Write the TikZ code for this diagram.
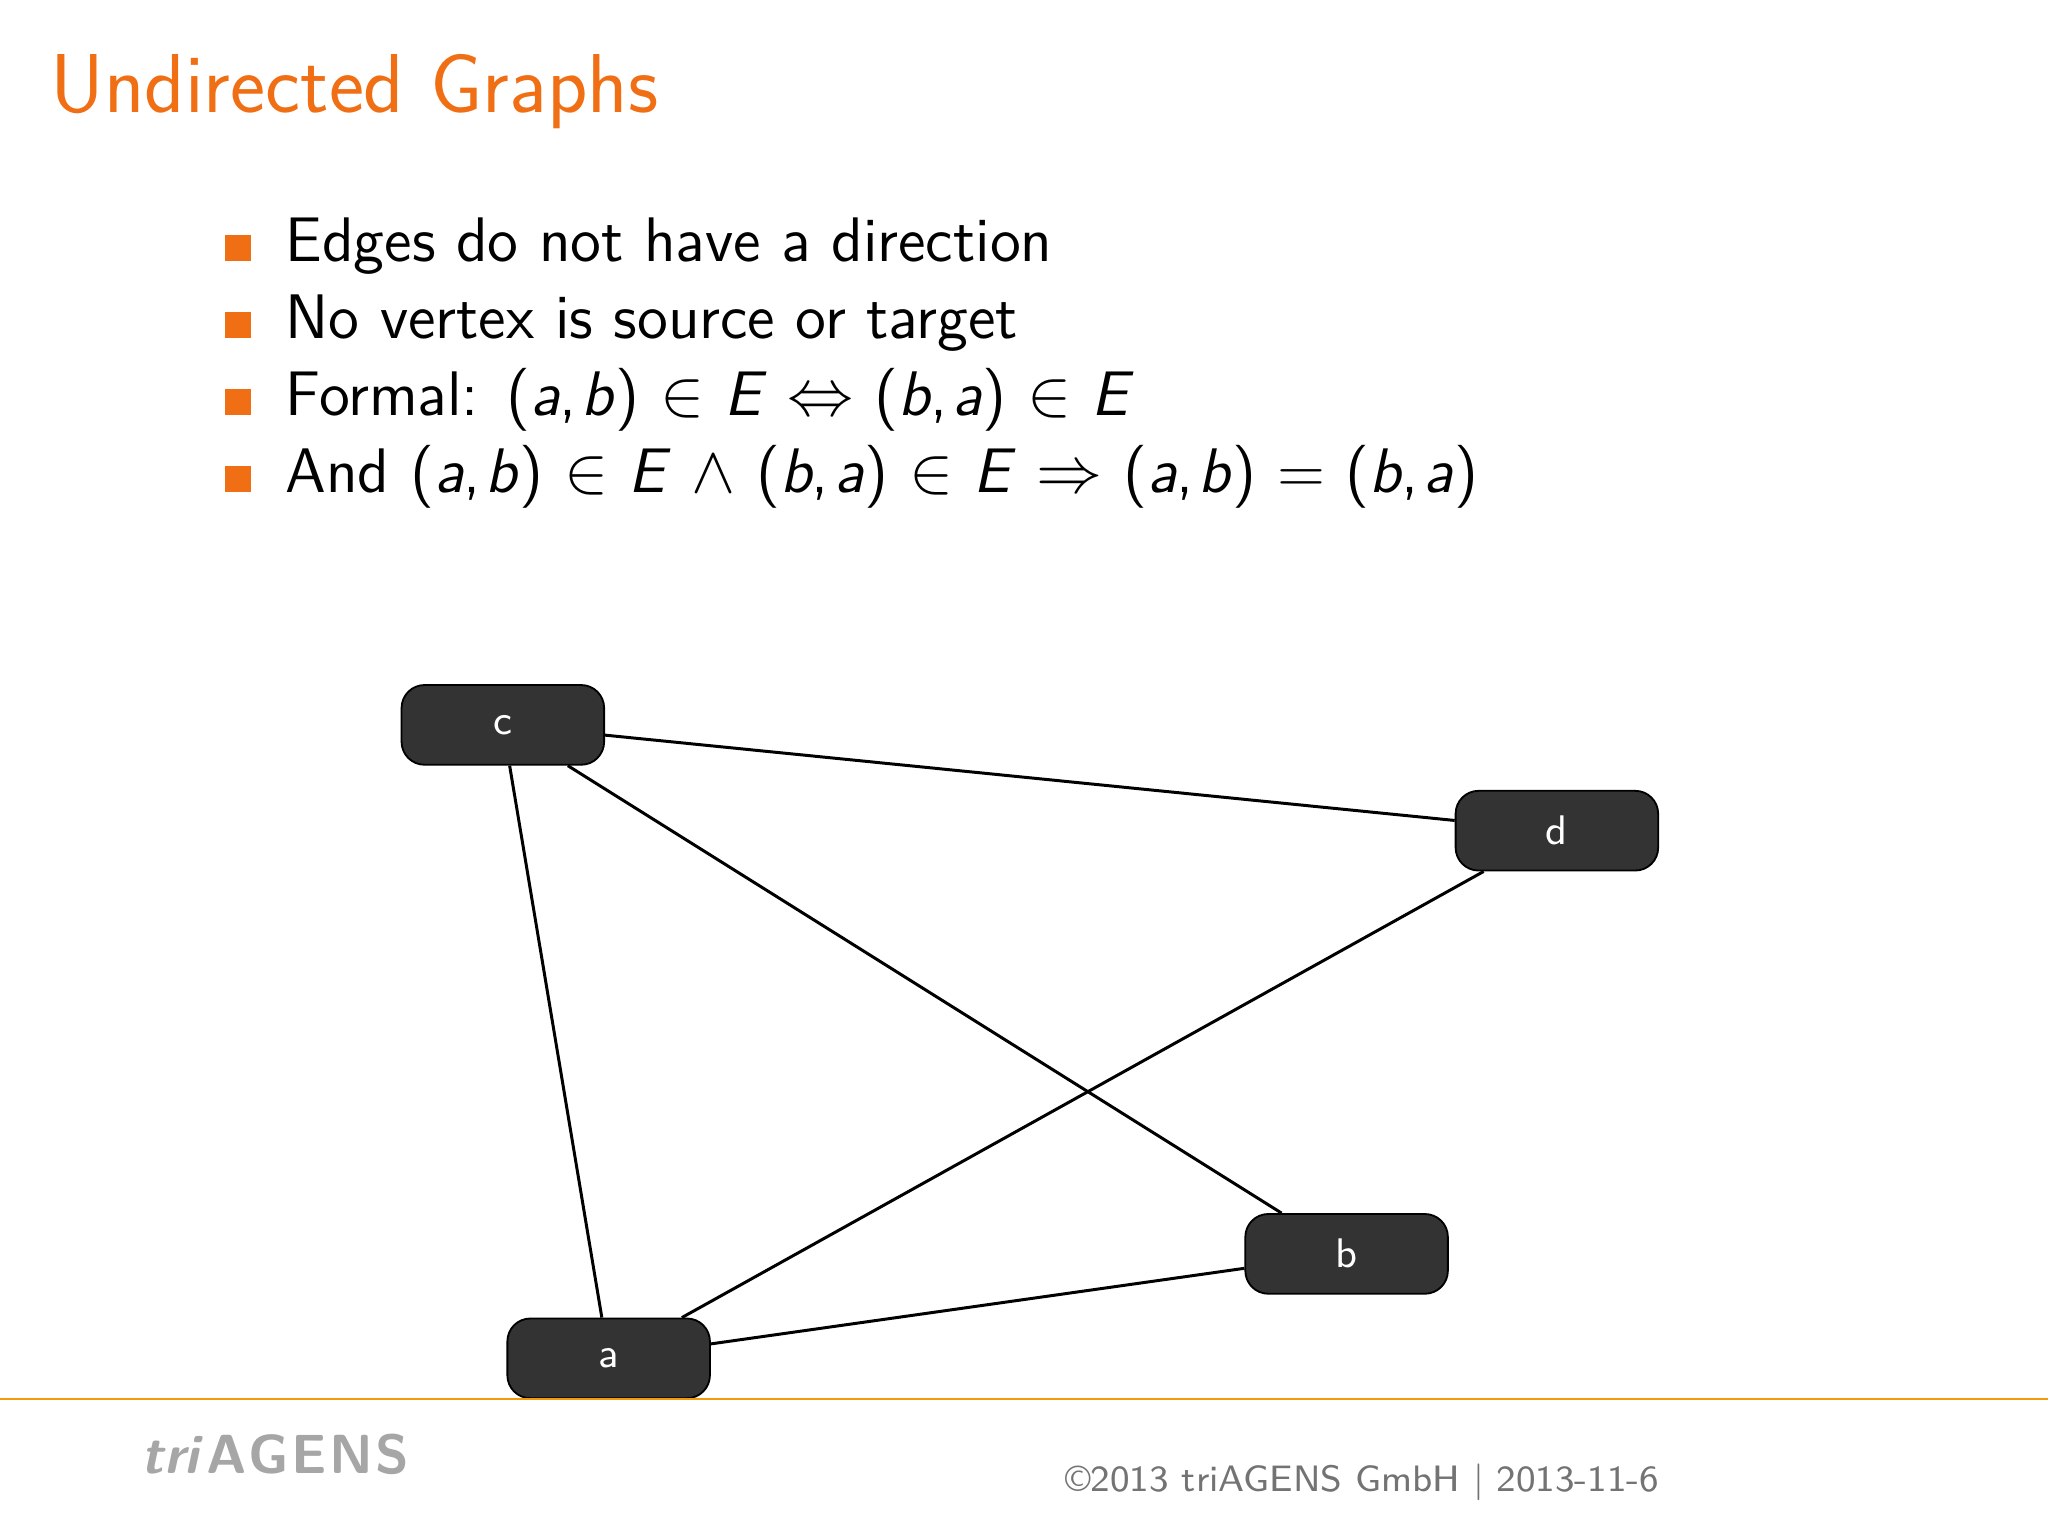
\documentclass[tikz,border=0pt]{standalone}
\usepackage{amssymb}
\renewcommand{\familydefault}{\sfdefault}
\newcommand{\pa}[2]{(\textit{#1},\kern0.08em\textit{#2})}
\begin{document}
\begin{tikzpicture}[x=0.01cm,y=-0.01cm,
  vbox/.style={draw=black,fill=black!80,rounded corners=5pt,minimum width=1.55cm,minimum height=0.61cm,text=white,font=\fontsize{9}{11}\selectfont},
  edge/.style={draw=black,line width=0.65pt},
  bul/.style={fill=orange!90!red,minimum size=0.2cm,inner sep=0pt},
  btxt/.style={anchor=base west,font=\fontsize{13.7}{16}\selectfont}]
\definecolor{orng}{RGB}{240,110,20}
\useasboundingbox (0,0) rectangle (1568,1176);
\node[anchor=base west,text=orng,font=\fontsize{18.2}{22}\selectfont,inner sep=0pt] (title) at (38,86) {Undirected Graphs};
\foreach \i/\y/\t in {1/200/{Edges do not have a direction},2/259/{No vertex is source or target},
 3/318/{Formal: \pa ab $\in$ \textit{E} $\Leftrightarrow$ \pa ba $\in$ \textit{E}},
 4/377/{And \pa ab $\in$ \textit{E} $\wedge$ \pa ba $\in$ \textit{E} $\Rightarrow$ \pa ab = \pa ba}}{
  \node[bul,fill=orng] (b\i) at (182,\y-10) {};
  \node[btxt,inner sep=0pt] (t\i) at (218,\y) {\t};
}
\node[vbox] (c) at (385,555) {c};
\node[vbox] (d) at (1192,636) {d};
\node[vbox] (b) at (1031,960) {b};
\node[vbox] (a) at (466,1040) {a};
\draw[edge] (c) -- (d);
\draw[edge] (c) -- (a);
\draw[edge] (c) -- (b);
\draw[edge] (d) -- (a);
\draw[edge] (a) -- (b);
\fill[orng!70!yellow] (0,1070) rectangle (1568,1072);
\node[anchor=base west,text=black!35,font=\fontsize{12}{14}\selectfont\bfseries,inner sep=0pt] (logo) at (108,1128) {\textit{tri}\kern0.05em A\kern0.04em G\kern0.04em E\kern0.04em N\kern0.04em S};
\node[anchor=base west,text=black!55,font=\fontsize{8}{10}\selectfont,inner sep=0pt] (copy) at (815,1142) {\textcopyright2013 triAGENS GmbH $|$ 2013-11-6};
\end{tikzpicture}
\end{document}
